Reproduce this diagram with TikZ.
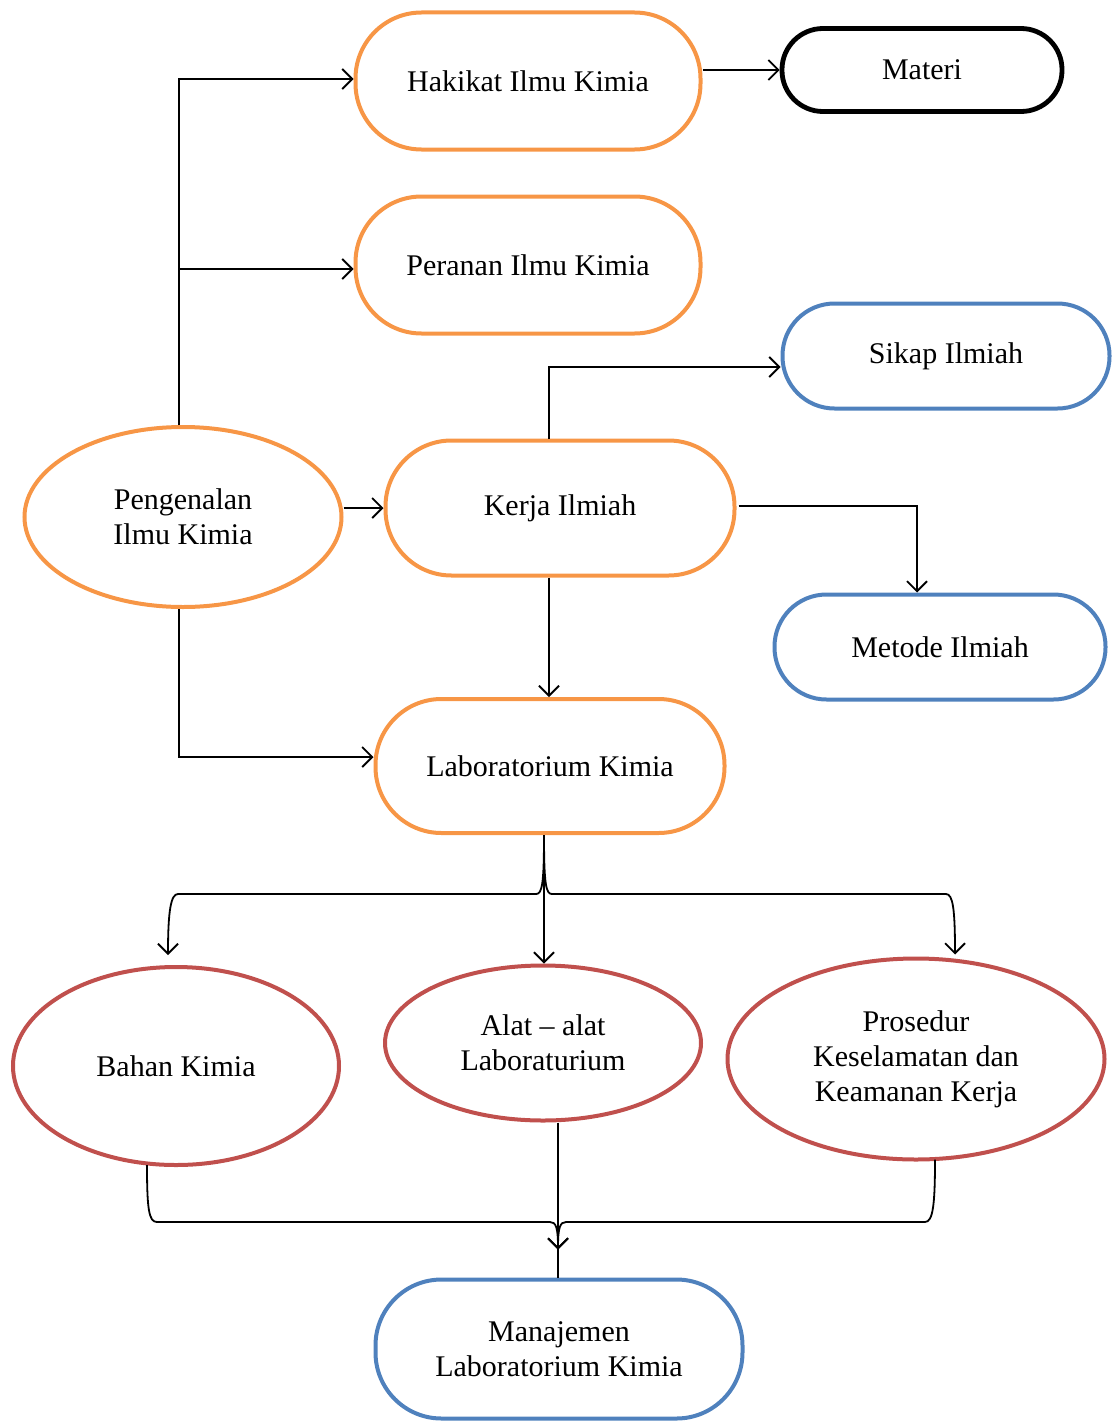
\documentclass[tikz,border=0pt]{standalone}
\usepackage{fontspec}
\setmainfont{Liberation Serif}
\usetikzlibrary{arrows.meta,calc,shapes.geometric}
\definecolor{orng}{HTML}{F79646}
\definecolor{blu}{HTML}{4F81BD}
\definecolor{rd}{HTML}{C0504D}
\begin{document}
\begin{tikzpicture}[x=1pt,y=-1pt,
  txt/.style={font=\fontsize{30}{35}\selectfont, align=center, inner sep=0pt},
  box/.style={txt, draw, line width=4pt, rounded corners=66pt},
  oval/.style={txt, draw, ellipse, line width=4pt},
  arr/.style={line width=1.8pt, -{Straight Barb[length=10pt,width=20pt,line width=1.8pt]}},
  ln/.style={line width=1.8pt}]
\useasboundingbox (0,0) rectangle (1113,1421);
% nodes
\node[box, orng, text=black, minimum width=345pt, minimum height=137pt] (hak) at (528,81) {Hakikat Ilmu Kimia};
\node[box, black, line width=4.8pt, rounded corners=41pt, minimum width=280pt, minimum height=83pt] (mat) at (922,70) {Materi};
\node[box, orng, text=black, minimum width=345pt, minimum height=137pt] (per) at (528,265) {Peranan Ilmu Kimia};
\node[box, blu, text=black, rounded corners=52pt, minimum width=327pt, minimum height=105pt] (sik) at (946,356) {Sikap Ilmiah};
\node[oval, orng, text=black, minimum width=317pt, minimum height=180pt] (peng) at (183,517) {Pengenalan\\Ilmu Kimia};
\node[box, orng, text=black, minimum width=349pt, minimum height=135pt] (kerja) at (560,508) {Kerja Ilmiah};
\node[box, blu, text=black, rounded corners=52pt, minimum width=331pt, minimum height=105pt] (met) at (940,647) {Metode Ilmiah};
\node[box, orng, text=black, minimum width=349pt, minimum height=134pt] (lab) at (550,766) {Laboratorium Kimia};
\node[oval, rd, text=black, minimum width=326pt, minimum height=198pt] (bahan) at (176,1066) {Bahan Kimia};
\node[oval, rd, text=black, minimum width=316pt, minimum height=155pt] (alat) at (543,1043) {Alat -- alat\\Laboraturium};
\node[oval, rd, text=black, minimum width=377pt, minimum height=201pt] (pros) at (916,1059) {Prosedur\\Keselamatan dan\\Keamanan Kerja};
\node[box, blu, text=black, minimum width=367pt, minimum height=139pt] (man) at (559,1349) {Manajemen\\Laboratorium Kimia};
\coordinate (mtop) at ($(man.north)+(-1,0)$);
\coordinate (mjoin) at ($(man.north)+(-1,-28)$);
% connectors
\draw[arr] ($(peng.north)+(-4,0)$) |- ($(hak.west)+(0,-2)$);
\draw[arr] ($(peng.north)+(-4,0)$) |- ($(per.west)+(0,4)$);
\draw[arr] (peng.east |- kerja.west) -- (kerja.west);
\draw[arr] ($(peng.south)+(-4,0)$) |- ($(lab.west)+(0,-9)$);
\draw[arr] (hak.east |- mat.west) -- (mat.west);
\draw[arr] ($(kerja.north)+(-11,0)$) |- ($(sik.west)+(0,11)$);
\draw[arr] ($(kerja.east)+(2,-2)$) -| ($(met.north)+(-23,0)$);
\draw[arr] ($(kerja.south)+(-11,0)$) -- ($(lab.north)+(-1,0)$);
% brace from lab
\draw[arr] ($(lab.south)+(-6,0)$) .. controls +(0,50) and +(6,0) .. (536,894) -- (178,894) .. controls +(-7,0) and +(0,-45) .. ($(bahan.north)+(-8,-10)$);
\draw[arr] ($(lab.south)+(-6,0)$) -- ($(alat.north)+(1,0)$);
\draw[arr] ($(lab.south)+(-6,0)$) .. controls +(0,50) and +(-6,0) .. (552,894) -- (946,894) .. controls +(7,0) and +(0,-45) .. ($(pros.north)+(39,-2)$);
% merge to man
\draw[ln] (mtop |- alat.south) -- (mtop);
\draw[arr] ($(bahan.south)+(-29,-2)$) .. controls +(0,45) and +(-8,0) .. (157,1222) -- (550,1222) .. controls +(6,0) and +(0,-22) .. (mjoin);
\draw[arr] ($(pros.south)+(19,-2)$) .. controls +(0,45) and +(8,0) .. (925,1222) -- (566,1222) .. controls +(-6,0) and +(0,-22) .. (mjoin);
\end{tikzpicture}
\end{document}
